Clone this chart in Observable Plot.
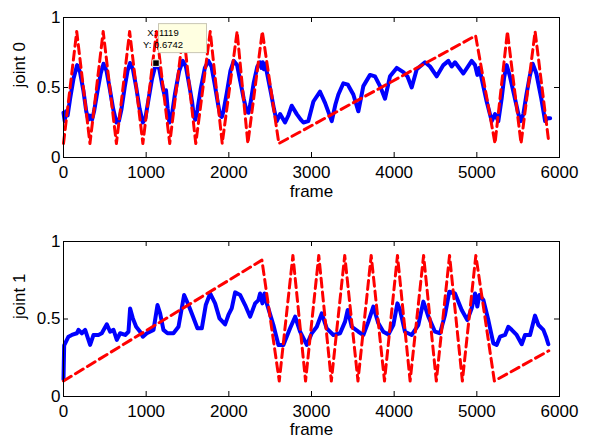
<!DOCTYPE html>
<html>
<head>
<meta charset="utf-8">
<script src="https://cdn.jsdelivr.net/npm/d3@7"></script>
<script src="https://cdn.jsdelivr.net/npm/@observablehq/plot@0.6"></script>
<style>
html, body { margin: 0; padding: 0; background: #fff; }
#chart svg { display: block; }
</style>
</head>
<body>
<div id="chart"></div>
<script>
// ---- data ----
const xTicks = [0, 1000, 2000, 3000, 4000, 5000, 6000];
const yTicks = [0, 0.5, 1];
const xLabel = "frame";
const panelLabels = ["joint 0", "joint 1"];

// joint 0: measured (blue) [frame, value]
const joint0Actual = [
  [0,0.32],[15,0.26],[30,0.33],[50,0.30],[80,0.42],[120,0.56],[165,0.66],[200,0.61],[240,0.48],[275,0.33],
  [300,0.27],[320,0.30],[345,0.27],[370,0.33],[410,0.47],[450,0.60],[484,0.67],[520,0.62],[560,0.49],[600,0.35],
  [640,0.25],[670,0.26],[700,0.34],[740,0.50],[775,0.62],[805,0.675],[840,0.63],[880,0.50],[920,0.35],[960,0.25],
  [990,0.28],[1030,0.42],[1070,0.56],[1119,0.674],[1160,0.63],[1200,0.50],[1225,0.44],[1240,0.48],[1260,0.35],[1280,0.25],
  [1310,0.30],[1350,0.46],[1400,0.62],[1443,0.69],[1480,0.65],[1520,0.52],[1555,0.40],[1575,0.30],[1595,0.27],[1620,0.34],
  [1660,0.49],[1710,0.64],[1753,0.69],[1790,0.65],[1830,0.52],[1870,0.38],[1895,0.30],[1915,0.29],[1935,0.33],[1975,0.46],
  [2020,0.62],[2060,0.69],[2100,0.66],[2140,0.54],[2180,0.42],[2215,0.33],[2237,0.32],[2260,0.38],[2300,0.53],[2345,0.65],
  [2378,0.68],[2395,0.64],[2410,0.68],[2425,0.63],[2440,0.67],[2470,0.58],[2510,0.46],[2545,0.35],[2560,0.31],[2580,0.26],
  [2620,0.31],[2680,0.25],[2720,0.30],[2761,0.37],[2822,0.31],[2870,0.27],[2902,0.25],[2962,0.26],[3023,0.40],[3103,0.47],
  [3164,0.39],[3245,0.26],[3290,0.38],[3325,0.45],[3385,0.53],[3440,0.52],[3506,0.45],[3567,0.33],[3627,0.51],[3708,0.59],
  [3768,0.58],[3829,0.51],[3889,0.42],[3950,0.58],[4031,0.64],[4111,0.61],[4160,0.58],[4212,0.50],[4273,0.63],[4373,0.68],
  [4434,0.65],[4515,0.58],[4595,0.66],[4656,0.69],[4696,0.65],[4736,0.68],[4837,0.60],[4938,0.69],[4978,0.66],[5006,0.59],
  [5030,0.64],[5119,0.40],[5180,0.26],[5220,0.31],[5260,0.26],[5300,0.42],[5330,0.57],[5361,0.66],[5400,0.58],[5450,0.45],
  [5503,0.31],[5531,0.26],[5563,0.31],[5600,0.45],[5640,0.58],[5676,0.67],[5720,0.60],[5780,0.42],[5826,0.26],[5855,0.28],
  [5887,0.28]
];
// joint 0: target (red dashed)
const joint0Target = [
  [0,0.1],[160,0.9],[320,0.1],[480,0.9],[640,0.1],[800,0.9],[960,0.1],[1125,0.9],[1285,0.1],[1450,0.9],
  [1600,0.1],[1775,0.9],[1920,0.1],[2100,0.9],[2230,0.1],[2405,0.9],[2605,0.1],[4985,0.87],[5220,0.1],[5370,0.9],
  [5535,0.1],[5705,0.9],[5870,0.11]
];
// joint 1: measured (blue)
const joint1Actual = [
  [0,0.11],[8,0.33],[20,0.343],[60,0.386],[101,0.397],[161,0.408],[181,0.43],[222,0.408],[262,0.43],[282,0.397],
  [322,0.333],[363,0.397],[423,0.397],[463,0.408],[524,0.466],[564,0.418],[605,0.43],[645,0.365],[685,0.408],[746,0.397],
  [786,0.418],[806,0.568],[839,0.504],[879,0.45],[927,0.418],[960,0.386],[1008,0.408],[1089,0.43],[1137,0.59],[1169,0.536],
  [1209,0.43],[1258,0.408],[1330,0.408],[1391,0.45],[1459,0.655],[1512,0.59],[1552,0.536],[1620,0.44],[1673,0.44],[1721,0.59],
  [1774,0.665],[1834,0.601],[1887,0.504],[1955,0.465],[1995,0.526],[2035,0.569],[2076,0.672],[2136,0.655],[2197,0.59],[2258,0.515],
  [2318,0.601],[2358,0.622],[2378,0.665],[2406,0.601],[2431,0.665],[2459,0.601],[2539,0.461],[2600,0.333],[2660,0.333],[2741,0.44],
  [2802,0.515],[2862,0.418],[2943,0.333],[3003,0.408],[3064,0.45],[3124,0.536],[3184,0.44],[3265,0.397],[3346,0.408],[3406,0.483],
  [3438,0.558],[3487,0.45],[3567,0.418],[3627,0.397],[3688,0.483],[3748,0.58],[3809,0.472],[3869,0.418],[3930,0.40],[3990,0.461],
  [4039,0.601],[4071,0.558],[4131,0.418],[4212,0.397],[4292,0.461],[4353,0.612],[4414,0.515],[4494,0.418],[4555,0.408],[4615,0.526],
  [4667,0.676],[4736,0.665],[4817,0.558],[4885,0.493],[4938,0.569],[4978,0.665],[5006,0.58],[5030,0.655],[5079,0.622],[5139,0.493],
  [5200,0.343],[5240,0.333],[5281,0.386],[5341,0.397],[5381,0.45],[5422,0.43],[5482,0.397],[5543,0.337],[5583,0.397],[5644,0.397],
  [5704,0.522],[5745,0.461],[5805,0.43],[5837,0.386],[5865,0.337]
];
// joint 1: target (red dashed)
const joint1Target = [
  [0,0.1],[2400,0.88],[2610,0.1],[2775,0.91],[2928,0.1],[3088,0.91],[3240,0.1],[3402,0.91],[3562,0.1],[3722,0.91],
  [3883,0.1],[4040,0.91],[4193,0.1],[4356,0.91],[4510,0.1],[4670,0.91],[4825,0.1],[4988,0.91],[5212,0.1],[5870,0.295]
];
// data tip on joint 0
const datatip = {frame: 1119, value: 0.6742};

// ---- drawing ----
const FONT = "'Liberation Sans', Arial, Helvetica, sans-serif";
const W = 591;

function panel({actual, target, label, height, mt, mb, labelDy, tip}) {
  const ml = 63, mr = 32;
  const innerW = W - ml - mr, innerH = height - mt - mb;
  const marks = [
    Plot.line(actual, {x: d => d[0], y: d => d[1], stroke: "#0000ff", strokeWidth: 4, strokeLinejoin: "round", strokeLinecap: "round"}),
    Plot.line(target, {x: d => d[0], y: d => d[1], stroke: "#ff0000", strokeWidth: 3, strokeDasharray: "9,5"}),
    Plot.frame({stroke: "black"}),
    Plot.tickX(xTicks, {x: d => d, insetTop: innerH - 5, stroke: "black"}),
    Plot.tickX(xTicks, {x: d => d, insetBottom: innerH - 5, stroke: "black"}),
    Plot.tickY(yTicks, {y: d => d, insetRight: innerW - 5, stroke: "black"}),
    Plot.tickY(yTicks, {y: d => d, insetLeft: innerW - 5, stroke: "black"}),
    Plot.axisX({ticks: xTicks, tickSize: 0, tickPadding: 8, tickFormat: d => String(d), label: null}),
    Plot.axisY({ticks: yTicks, tickSize: 0, tickPadding: 3, tickFormat: d => String(d), label: null}),
    Plot.text([xLabel], {frameAnchor: "bottom", dy: labelDy, lineAnchor: "middle", text: d => d}),
    Plot.text([label], {frameAnchor: "left", dx: -43.5, rotate: -90, lineAnchor: "middle", text: d => d})
  ];
  if (tip) {
    marks.push(Plot.dot([tip], {x: "frame", y: "value", symbol: "square", r: 3.7, fill: "black", stroke: "#fffbe6", strokeWidth: 1}));
  }
  const plot = Plot.plot({
    width: W, height,
    marginLeft: ml, marginRight: mr, marginTop: mt, marginBottom: mb,
    x: {domain: [0, 6000]},
    y: {domain: [0, 1]},
    style: {fontFamily: FONT, fontSize: "17px", color: "black", background: "white"},
    marks
  });
  if (tip) {
    const px = plot.scale("x").apply(tip.frame);
    const py = plot.scale("y").apply(tip.value);
    const g = d3.select(plot).append("g").attr("transform", `translate(${px + 2.5},${py - 39.5})`);
    g.append("rect").attr("x", 0.5).attr("y", 0.5).attr("width", 48).attr("height", 29)
      .attr("fill", "#ffffe1").attr("stroke", "#c9c6b4").attr("stroke-width", 1);
    g.append("text").attr("x", 5).attr("y", 12.5).attr("font-size", 9.5).attr("font-family", FONT).attr("fill", "black")
      .text(`X: ${tip.frame}`);
    g.append("text").attr("x", 5).attr("y", 25).attr("font-size", 9.5).attr("font-family", FONT).attr("fill", "black")
      .text(`Y: ${tip.value}`);
  }
  return plot;
}

const chart = document.getElementById("chart");
chart.append(panel({actual: joint0Actual, target: joint0Target, label: panelLabels[0], height: 220, mt: 17, mb: 63, labelDy: 34, tip: datatip}));
chart.append(panel({actual: joint1Actual, target: joint1Target, label: panelLabels[1], height: 221, mt: 21, mb: 45, labelDy: 33}));
</script>
</body>
</html>
